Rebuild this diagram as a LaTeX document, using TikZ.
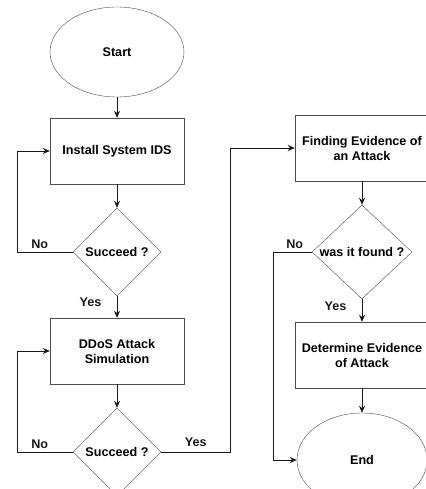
\documentclass[tikz,border=0pt]{standalone}
\usepackage{fontspec}
\setmainfont{Liberation Sans}
\usetikzlibrary{arrows.meta,shapes.geometric}

\begin{document}
\begin{tikzpicture}[
			x=1pt, y=-1pt,
			>={Stealth[length=7pt,width=6pt]},
			font=\fontsize{12.6}{15}\selectfont\bfseries,
			% Styles
			terminal/.style={ellipse, draw=black!70, minimum width=134pt, minimum height=90pt, inner sep=0pt},
			process/.style={rectangle, draw=black!70, minimum width=134pt, minimum height=66pt, align=center, inner sep=1pt},
			decision/.style={diamond, draw=black!70, minimum width=88pt, minimum height=88pt, inner sep=0pt, align=center},
			flow/.style={->, black!90, line width=0.8pt}
		]
		\useasboundingbox (0,0) rectangle (425,489);

		% --- left column ---
		\node[terminal] (start) at (117,52) {Start};
		\node[process] (install) at (117,151) {Install System IDS};
		\node[decision] (succeedA) at (117,252) {Succeed ?};
		\node[process] (ddos) at (117,351) {DDoS Attack\\Simulation};
		\node[decision] (succeedB) at (117,452) {Succeed ?};

		% --- right column ---
		\node[process] (finding) at (362,148) {Finding Evidence of\\an Attack};
		\node[decision, minimum width=100pt] (found) at (362,252) {was it found ?};
		\node[process] (determine) at (362,355) {Determine Evidence\\of Attack};
		\node[terminal, minimum width=130pt, minimum height=94pt] (finish) at (362,460) {End};

		% --- connectors ---
		\draw[flow] (start) -- (install);
		\draw[flow] (install) -- (succeedA);
		\draw[flow] (succeedA) -- node[pos=0.3, left=12pt] {Yes} (ddos);
		\draw[flow] (succeedA.west) -- node[pos=0.6, above] {No} ++(-55,0) |- (install.west);
		\draw[flow] (ddos) -- (succeedB);
		\draw[flow] (succeedB.west) -- node[pos=0.6, above] {No} ++(-55,0) |- (ddos.west);
		\draw[flow] (succeedB.east) -- node[above=2pt] {Yes} ++(69,0) |- (finding.west);

		\draw[flow] (finding) -- (found);
		\draw[flow] (found) -- node[pos=0.3, left=12pt] {Yes} (determine);
		\draw[flow] (found.west) -- node[pos=0.45, above] {No} ++(-38,0) |- (finish.west);
		\draw[flow] (determine) -- (finish);

	\end{tikzpicture}
\end{document}
